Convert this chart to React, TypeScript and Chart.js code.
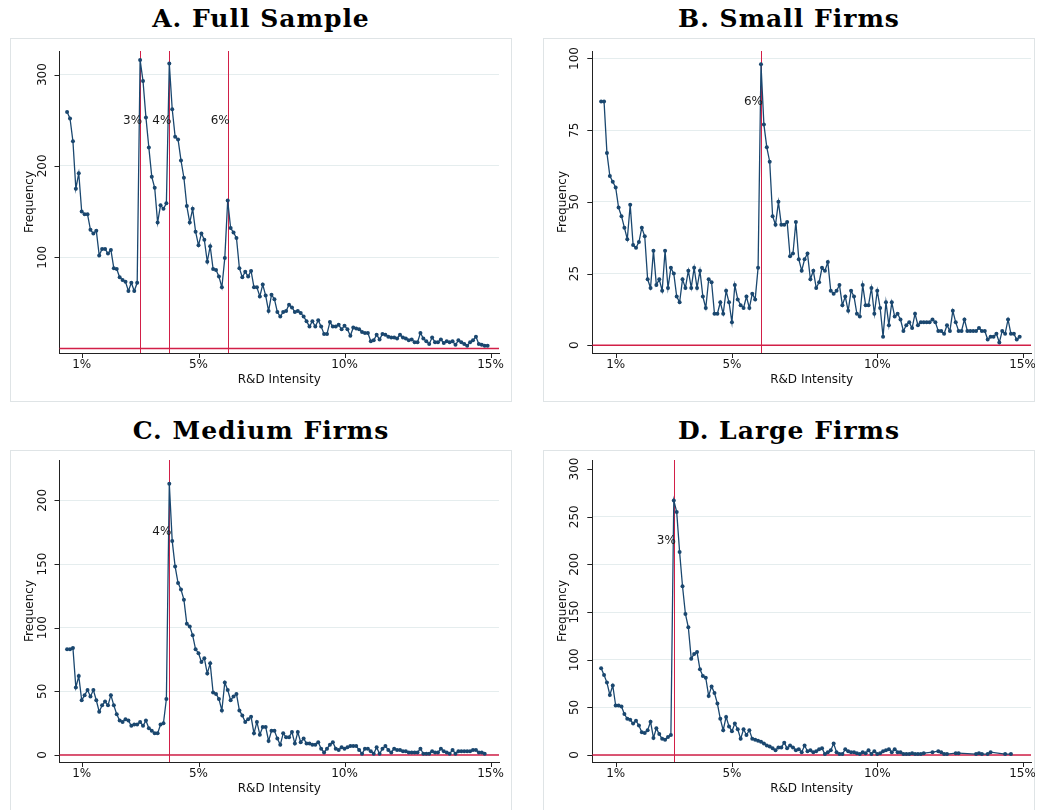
import React, { useEffect, useRef } from 'react';
import { Chart, registerables } from 'chart.js';

Chart.register(...registerables);

const NAVY = '#1a476f';
const RED = '#d21f47';
const GRID = '#e5edee';
const AXIS = '#222222';
const SANS = '"DejaVu Sans", sans-serif';

// x positions of the histogram bins (R&D intensity, %)
const bins = (first: number, last: number): number[] => {
  const out: number[] = [];
  for (let k = Math.round(first * 10); k <= Math.round(last * 10); k++) out.push(k / 10);
  return out;
};

const xTickValues = [1, 5, 10, 15];
const xTickLabels = ['1%', '5%', '10%', '15%'];

// A. Full Sample
const fullX = bins(0.5, 14.9);
const fullY = [
  259, 252, 227, 175, 192,
  150, 147, 147, 130, 126, 129, 102, 109, 109, 104,
  108, 88, 87, 78, 75, 73, 63, 72, 63, 72,
  316, 293, 253, 220, 188, 176, 138, 157, 153, 159,
  312, 262, 232, 229, 206, 187, 156, 138, 153, 128,
  113, 126, 119, 95, 112, 87, 86, 79, 67, 99,
  162, 132, 127, 121, 88, 78, 84, 79, 85, 67,
  67, 57, 70, 58, 41, 59, 54, 40, 35, 40,
  41, 48, 45, 40, 41, 39, 35, 30, 24, 30,
  24, 31, 24, 16, 16, 29, 24, 24, 26, 21,
  25, 21, 14, 23, 22, 21, 18, 17, 17, 8,
  9, 15, 10, 16, 15, 13, 12, 12, 11, 15,
  12, 11, 9, 10, 7, 7, 17, 11, 8, 5,
  12, 7, 7, 10, 6, 8, 7, 8, 4, 9,
  7, 5, 3, 7, 9, 13, 5, 4, 3, 3,
];

// B. Small Firms
const smallX = bins(0.5, 14.9);
const smallY = [
  85, 85, 67, 59, 57,
  55, 48, 45, 41, 37, 49, 35, 34, 36, 41,
  38, 23, 20, 33, 21, 23, 19, 33, 20, 27,
  25, 17, 15, 23, 20, 26, 20, 27, 20, 26,
  17, 13, 23, 22, 11, 11, 15, 11, 19, 15,
  8, 21, 16, 14, 13, 17, 13, 18, 16, 27,
  98, 77, 69, 64, 45, 42, 50, 42, 42, 43,
  31, 32, 43, 30, 26, 30, 32, 23, 26, 20,
  22, 27, 26, 29, 19, 18, 19, 21, 14, 17,
  12, 19, 17, 11, 10, 21, 14, 14, 20, 11,
  19, 13, 3, 15, 7, 15, 10, 11, 9, 5,
  7, 8, 6, 11, 7, 8, 8, 8, 8, 9,
  8, 5, 5, 4, 7, 5, 12, 8, 5, 5,
  9, 5, 5, 5, 5, 6, 5, 5, 2, 3,
  3, 4, 1, 5, 4, 9, 4, 4, 2, 3,
];

// C. Medium Firms
const mediumX = bins(0.5, 14.8);
const mediumY = [
  83, 83, 84, 53, 62,
  43, 47, 51, 46, 51, 43, 34, 39, 42, 39,
  47, 39, 32, 27, 26, 28, 27, 23, 24, 24,
  26, 23, 27, 21, 19, 17, 17, 24, 25, 44,
  213, 168, 148, 135, 130, 122, 103, 101, 94, 83,
  80, 73, 76, 64, 72, 49, 48, 44, 35, 57,
  51, 43, 46, 48, 35, 31, 26, 28, 30, 17,
  26, 16, 22, 22, 11, 19, 19, 13, 8, 17,
  14, 14, 18, 9, 18, 10, 13, 9, 9, 8,
  8, 10, 5, 2, 5, 8, 10, 5, 4, 6,
  5, 6, 7, 7, 7, 4, 1, 5, 5, 3,
  1, 6, 1, 5, 7, 4, 2, 5, 4, 4,
  3, 3, 2, 2, 2, 2, 5, 1, 1, 1,
  3, 2, 2, 5, 3, 2, 1, 4, 1, 3,
  3, 3, 3, 3, 4, 4, 2, 2, 1,
];

// D. Large Firms (empty bins in the tail are absent)
const largeTailX = [11.9, 12.1, 12.2, 12.3, 12.4, 12.7, 12.8, 13.4, 13.5, 13.6, 13.8, 13.9, 14.4, 14.6];
const largeX = [...bins(0.5, 11.6), ...largeTailX];
const largeY = [
  91, 84, 76, 63, 73,
  52, 52, 51, 43, 38, 37, 33, 36, 31, 24,
  23, 26, 35, 18, 28, 22, 17, 16, 19, 21,
  267, 255, 213, 177, 148, 134, 101, 106, 108, 90,
  83, 81, 62, 72, 65, 54, 38, 26, 40, 30,
  25, 33, 27, 17, 27, 21, 26, 17, 16, 15,
  14, 12, 10, 9, 7, 5, 8, 8, 13, 7,
  10, 8, 5, 6, 3, 10, 4, 5, 3, 4,
  6, 7, 1, 3, 5, 12, 3, 1, 1, 6,
  4, 3, 3, 2, 1, 3, 2, 5, 1, 4,
  1, 2, 4, 5, 6, 3, 6, 3, 3, 1,
  1, 1, 2, 1, 1, 1, 2,
  3, 4, 3, 1, 1, 2, 2, 1, 2, 1, 1, 3, 1, 1,
];

const fullTicks = [100, 200, 300];
const smallTicks = [0, 25, 50, 75, 100];
const mediumTicks = [0, 50, 100, 150, 200];
const largeTicks = [0, 50, 100, 150, 200, 250, 300];

const fullLines = [3, 4, 6];
const smallLines = [6];
const mediumLines = [4];
const largeLines = [3];

type PanelDef = {
  title: string;
  box: [number, number, number, number];
  area: { left: number; top: number; right: number; bottom: number };
  xRange: [number, number];
  yRange: [number, number];
  yTicks: number[];
  hideGrid: number[];
  lines: number[];
  labelY: number;
  xs: number[];
  ys: number[];
};

const panels: PanelDef[] = [
  {
    title: 'A. Full Sample', box: [10, 38, 502, 364],
    area: { left: 49.5, top: 13, right: 489, bottom: 315 },
    xRange: [0.24, 15.29], yRange: [-4.9, 325.8], yTicks: fullTicks, hideGrid: [],
    lines: fullLines, labelY: 249, xs: fullX, ys: fullY,
  },
  {
    title: 'B. Small Firms', box: [543, 38, 492, 364],
    area: { left: 49.3, top: 13, right: 488.5, bottom: 315 },
    xRange: [0.196, 15.29], yRange: [-2.69, 102.6], yTicks: smallTicks, hideGrid: [],
    lines: smallLines, labelY: 85, xs: smallX, ys: smallY,
  },
  {
    title: 'C. Medium Firms', box: [10, 450, 502, 364],
    area: { left: 49.5, top: 10, right: 489, bottom: 312 },
    xRange: [0.24, 15.29], yRange: [-5.5, 231.7], yTicks: mediumTicks, hideGrid: [],
    lines: mediumLines, labelY: 175, xs: mediumX, ys: mediumY,
  },
  {
    title: 'D. Large Firms', box: [543, 450, 492, 364],
    area: { left: 49.3, top: 10, right: 488.5, bottom: 312 },
    xRange: [0.196, 15.29], yRange: [-7.3, 309.5], yTicks: largeTicks, hideGrid: [300],
    lines: largeLines, labelY: 225, xs: largeX, ys: largeY,
  },
];

const decorPlugin = {
  id: 'decor',
  beforeDatasetsDraw(chart: any, _a: any, opts: any) {
    const { ctx, chartArea: ca, scales } = chart;
    const x = scales.x, y = scales.y;
    ctx.save();
    ctx.strokeStyle = RED;
    ctx.lineWidth = 1;
    for (const v of opts.lines as number[]) {
      const px = Math.round(x.getPixelForValue(v)) + 0.5;
      ctx.beginPath();
      ctx.moveTo(px, ca.top);
      ctx.lineTo(px, ca.bottom);
      ctx.stroke();
    }
    const py = y.getPixelForValue(0);
    ctx.lineWidth = 1.4;
    ctx.beginPath();
    ctx.moveTo(ca.left, py);
    ctx.lineTo(ca.right, py);
    ctx.stroke();
    ctx.restore();
  },
  afterDatasetsDraw(chart: any, _a: any, opts: any) {
    const { ctx, scales } = chart;
    const x = scales.x, y = scales.y;
    ctx.save();
    ctx.fillStyle = '#1a1a1a';
    ctx.font = `12px ${SANS}`;
    ctx.textAlign = 'right';
    ctx.textBaseline = 'middle';
    for (const v of opts.lines as number[]) {
      ctx.fillText(`${v}%`, x.getPixelForValue(v) + 2, y.getPixelForValue(opts.labelY));
    }
    ctx.restore();
  },
  afterDraw(chart: any, _a: any, opts: any) {
    const { ctx, chartArea: ca, scales } = chart;
    const x = scales.x, y = scales.y;
    ctx.save();
    ctx.strokeStyle = AXIS;
    ctx.fillStyle = '#111111';
    ctx.lineWidth = 1;
    ctx.font = `12px ${SANS}`;
    // y ticks
    for (const v of opts.yTicks as number[]) {
      const py = Math.round(y.getPixelForValue(v)) + 0.5;
      ctx.beginPath();
      ctx.moveTo(ca.left - 5, py);
      ctx.lineTo(ca.left, py);
      ctx.stroke();
      ctx.save();
      ctx.translate(ca.left - 17, y.getPixelForValue(v));
      ctx.rotate(-Math.PI / 2);
      ctx.textAlign = 'center';
      ctx.textBaseline = 'middle';
      ctx.fillText(String(v), 0, 0);
      ctx.restore();
    }
    ctx.save();
    ctx.translate(ca.left - 29.5, (ca.top + ca.bottom) / 2);
    ctx.rotate(-Math.PI / 2);
    ctx.textAlign = 'center';
    ctx.textBaseline = 'middle';
    ctx.fillText('Frequency', 0, 0);
    ctx.restore();
    // x ticks
    xTickValues.forEach((v, i) => {
      const px = Math.round(x.getPixelForValue(v)) + 0.5;
      ctx.beginPath();
      ctx.moveTo(px, ca.bottom);
      ctx.lineTo(px, ca.bottom + 5);
      ctx.stroke();
      ctx.textAlign = 'center';
      ctx.textBaseline = 'middle';
      ctx.fillText(xTickLabels[i], x.getPixelForValue(v), ca.bottom + 12);
    });
    ctx.textAlign = 'center';
    ctx.textBaseline = 'middle';
    ctx.fillText('R&D Intensity', (ca.left + ca.right) / 2, ca.bottom + 27);
    ctx.restore();
  },
};

function Panel({ p }: { p: PanelDef }) {
  const ref = useRef<HTMLCanvasElement>(null);
  useEffect(() => {
    const [, , w, h] = p.box;
    const chart = new Chart(ref.current as HTMLCanvasElement, {
      type: 'line',
      data: {
        datasets: [
          {
            data: p.xs.map((xv, i) => ({ x: xv, y: p.ys[i] })),
            borderColor: NAVY,
            borderWidth: 1.3,
            backgroundColor: NAVY,
            pointRadius: 2,
            pointBorderWidth: 0,
            pointBackgroundColor: NAVY,
            tension: 0,
            fill: false,
          },
        ],
      },
      options: {
        animation: false,
        responsive: false,
        devicePixelRatio: 1,
        events: [],
        layout: { padding: { left: 0, top: p.area.top, right: w - p.area.right, bottom: 0 } },
        plugins: {
          legend: { display: false },
          tooltip: { enabled: false },
          title: { display: false },
          decor: { lines: p.lines, labelY: p.labelY, yTicks: p.yTicks },
        } as any,
        scales: {
          x: {
            type: 'linear',
            min: p.xRange[0],
            max: p.xRange[1],
            afterBuildTicks: (s: any) => { s.ticks = xTickValues.map((v) => ({ value: v })); },
            afterFit: (s: any) => { s.height = h - p.area.bottom; },
            ticks: { display: false },
            grid: { display: true, color: 'rgba(0,0,0,0)', drawTicks: false },
            border: { display: true, color: AXIS, width: 1 },
          },
          y: {
            type: 'linear',
            min: p.yRange[0],
            max: p.yRange[1],
            afterBuildTicks: (s: any) => { s.ticks = p.yTicks.map((v) => ({ value: v })); },
            afterFit: (s: any) => { s.width = p.area.left; },
            ticks: { display: false },
            grid: {
              display: true,
              drawTicks: false,
              lineWidth: 1,
              color: (c: any) => (c.tick && p.hideGrid.includes(c.tick.value) ? 'rgba(0,0,0,0)' : GRID),
            },
            border: { display: true, color: AXIS, width: 1 },
          },
        },
      } as any,
      plugins: [decorPlugin as any],
    });
    return () => chart.destroy();
  }, [p]);
  const [l, t, w, h] = p.box;
  return (
    <>
      <div
        style={{
          position: 'absolute', left: l, top: t - 31, width: w, textAlign: 'center',
          fontFamily: '"DejaVu Serif", serif', fontWeight: 'bold', fontSize: 25, lineHeight: '24px',
          letterSpacing: '1px', color: '#000',
        }}
      >
        {p.title}
      </div>
      <div
        style={{
          position: 'absolute', left: l, top: t, width: w, height: h,
          boxSizing: 'border-box', border: '1px solid #dfe4e6', background: '#fff',
        }}
      />
      <canvas
        ref={ref}
        width={w}
        height={h}
        style={{ position: 'absolute', left: l, top: t, width: w, height: h }}
      />
    </>
  );
}

export default function App() {
  return (
    <div
      style={{
        position: 'fixed', left: 0, top: 0, width: 1037, height: 810,
        overflow: 'hidden', background: '#fff',
      }}
    >
      {panels.map((p) => (
        <Panel key={p.title} p={p} />
      ))}
    </div>
  );
}
